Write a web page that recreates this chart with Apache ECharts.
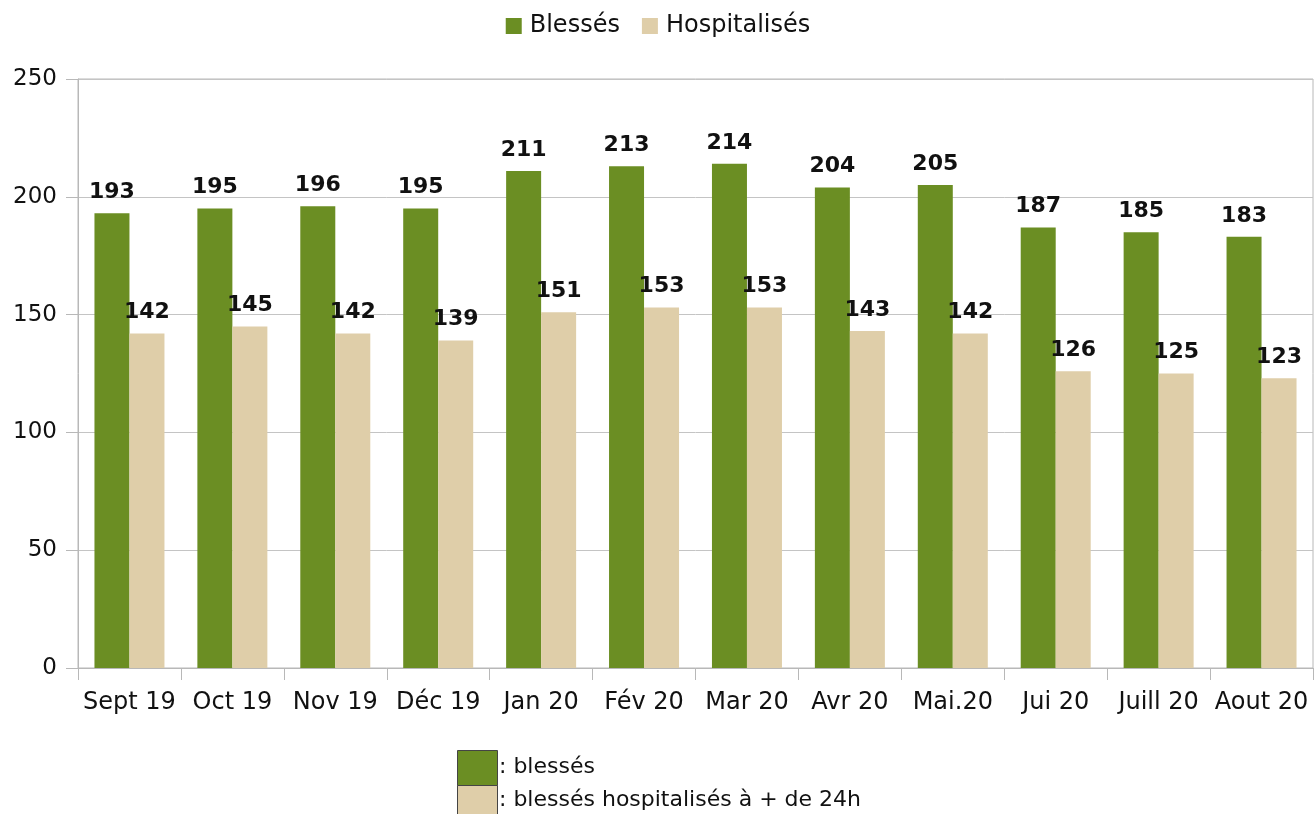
<!DOCTYPE html>
<html><head><meta charset="utf-8">
<script src="https://cdn.jsdelivr.net/npm/echarts@6/dist/echarts.min.js"></script>
<style>html,body{margin:0;padding:0;background:#fff}#c{width:1316px;height:814px}</style>
</head><body><div id="c"></div>
<script>
const categories = ['Sept 19','Oct 19','Nov 19','Déc 19','Jan 20','Fév 20','Mar 20','Avr 20','Mai.20','Jui 20','Juill 20','Aout 20'];
const blesses = [193,195,196,195,211,213,214,204,205,187,185,183];
const hospitalises = [142,145,142,139,151,153,153,143,142,126,125,123];
const seriesNames = ['Blessés','Hospitalisés'];
const noteLabels = [': blessés', ': blessés hospitalisés à + de 24h'];
const GREEN = '#6b8e23', BEIGE = '#dfcea9';
const FONT = '"DejaVu Sans", sans-serif';

const chart = echarts.init(document.getElementById('c'));
chart.setOption({
  animation: false,
  textStyle: {fontFamily: FONT},
  legend: {
    top: 9, left: 'center', itemWidth: 16, itemHeight: 16, itemGap: 22,
    icon: 'rect',
    textStyle: {fontSize: 24, color: '#111', fontFamily: FONT, padding: [0, 0, 0, 3]},
    data: seriesNames
  },
  grid: {left: 78, right: 3, top: 79, bottom: 146, show: true, borderColor: '#b8b8b8', borderWidth: 1},
  xAxis: {
    type: 'category', data: categories,
    axisLine: {lineStyle: {color: '#b8b8b8'}},
    axisTick: {show: true, length: 12, lineStyle: {color: '#b8b8b8'}},
    axisLabel: {interval: 0, fontSize: 24, color: '#111', margin: 23, fontFamily: FONT}
  },
  yAxis: {
    type: 'value', min: 0, max: 250, interval: 50,
    axisLine: {show: true, lineStyle: {color: '#b8b8b8'}},
    axisTick: {show: true, length: 12, lineStyle: {color: '#b8b8b8'}, inside: false},
    splitLine: {lineStyle: {color: '#c4c4c4'}},
    axisLabel: {fontSize: 23, color: '#111', margin: 21, fontFamily: FONT}
  },
  series: [
    {name: seriesNames[0], type: 'bar', data: blesses, barWidth: 35, barGap: '0%',
     itemStyle: {color: GREEN},
     label: {show: true, position: 'top', distance: 10, fontSize: 22, fontWeight: 'bold', color: '#111', fontFamily: FONT}},
    {name: seriesNames[1], type: 'bar', data: hospitalises, barWidth: 35,
     itemStyle: {color: BEIGE},
     label: {show: true, position: 'top', distance: 10, fontSize: 22, fontWeight: 'bold', color: '#111', fontFamily: FONT}}
  ],
  graphic: [
    {type: 'rect', left: 457, top: 750, shape: {width: 40, height: 35}, style: {fill: GREEN, stroke: '#444', lineWidth: 1}},
    {type: 'rect', left: 457, top: 785, shape: {width: 40, height: 35}, style: {fill: BEIGE, stroke: '#444', lineWidth: 1}},
    {type: 'text', left: 499, top: 756, style: {text: noteLabels[0], fontSize: 22, fill: '#111', fontFamily: FONT}},
    {type: 'text', left: 499, top: 789, style: {text: noteLabels[1], fontSize: 22, fill: '#111', fontFamily: FONT}}
  ]
});
</script></body></html>
